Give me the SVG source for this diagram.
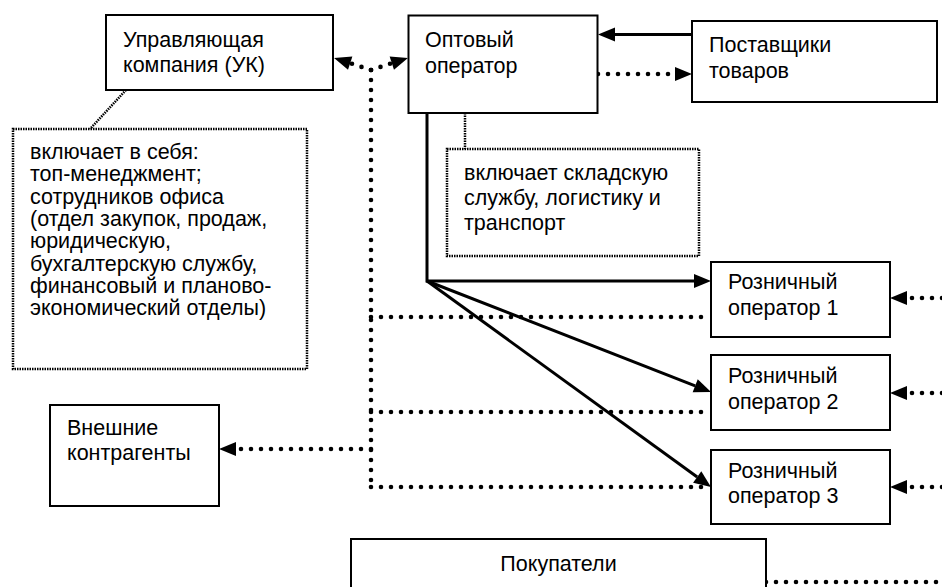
<svg xmlns="http://www.w3.org/2000/svg" width="942" height="587" viewBox="0 0 942 587">
<style>
.box{fill:#fff;stroke:#000;stroke-width:2}
.note{fill:#fff;stroke:#000;stroke-width:2.5;stroke-dasharray:1.5 1}
.solid{fill:none;stroke:#000;stroke-width:3}
.dot{fill:none;stroke:#000;stroke-width:4.6;stroke-linecap:round;stroke-dasharray:0 10}
.thin{fill:none;stroke:#000;stroke-width:2.5;stroke-dasharray:1.5 1}
text{font-family:"Liberation Sans",Arial,sans-serif;font-size:21.5px;fill:#000}
.head{fill:#000;stroke:none}
</style>
<defs>
<marker id="ah" markerUnits="userSpaceOnUse" viewBox="0 -8 18 16" markerWidth="18" markerHeight="16" refX="0" refY="0" orient="auto" overflow="visible">
<path class="head" d="M0,-7 L17,0 L0,7 z"/>
</marker>
</defs>
<rect width="942" height="587" fill="#fff"/>

<g id="connectors">
<path class="thin" d="M126,90 L90,129"/>
<path class="thin" d="M465,113 V149"/>
<path class="solid" d="M692,34.5 H615" marker-end="url(#ah)"/>
<path class="solid" d="M427,113 V281 H694" marker-end="url(#ah)"/>
<path class="solid" d="M427,281 L695.2,385.8" marker-end="url(#ah)"/>
<path class="solid" d="M427,281 L697.2,477" marker-end="url(#ah)"/>
<path class="dot" d="M598,74 H675" marker-end="url(#ah)"/>
<path class="dot" d="M371,70 V487"/>
<path class="dot" d="M371,70 L350.2,63.2" marker-end="url(#ah)"/>
<path class="dot" d="M371,70 L391.8,63.2" marker-end="url(#ah)"/>
<path class="dot" d="M371,317 H711"/>
<path class="dot" d="M371,412 H711"/>
<path class="dot" d="M371,487 H711"/>
<path class="dot" d="M371,449 H236" marker-end="url(#ah)"/>
<path class="dot" d="M942,298 H907" marker-end="url(#ah)"/>
<path class="dot" d="M942,393 H907" marker-end="url(#ah)"/>
<path class="dot" d="M942,487 H907" marker-end="url(#ah)"/>
<path class="dot" d="M766,582 H942"/>
</g>

<g id="uk">
<rect class="box" x="106" y="15" width="227" height="75"/>
<text x="123" y="47">Управляющая</text>
<text x="123" y="72">компания (УК)</text>
</g>

<g id="uk-note">
<rect class="note" x="13" y="129" width="294" height="240"/>
<text x="30" y="159">включает в себя:</text>
<text x="30" y="181">топ-менеджмент;</text>
<text x="30" y="204">сотрудников офиса</text>
<text x="30" y="226">(отдел закупок, продаж,</text>
<text x="30" y="248">юридическую,</text>
<text x="30" y="271">бухгалтерскую службу,</text>
<text x="30" y="293">финансовый и планово-</text>
<text x="30" y="315">экономический отделы)</text>
</g>

<g id="wholesale">
<rect class="box" x="408.5" y="15.5" width="189" height="97.5"/>
<text x="425" y="47">Оптовый</text>
<text x="425" y="73">оператор</text>
</g>

<g id="wholesale-note">
<rect class="note" x="447" y="149" width="252" height="107"/>
<text x="464" y="180">включает складскую</text>
<text x="464" y="205">службу, логистику и</text>
<text x="464" y="230">транспорт</text>
</g>

<g id="suppliers">
<rect class="box" x="692" y="21" width="245" height="81"/>
<text x="709" y="52">Поставщики</text>
<text x="709" y="78">товаров</text>
</g>

<g id="retail1">
<rect class="box" x="711" y="262" width="179" height="75"/>
<text x="728" y="289">Розничный</text>
<text x="728" y="315">оператор 1</text>
</g>

<g id="retail2">
<rect class="box" x="711" y="355" width="179" height="75"/>
<text x="728" y="383">Розничный</text>
<text x="728" y="409">оператор 2</text>
</g>

<g id="retail3">
<rect class="box" x="711" y="450" width="179" height="74"/>
<text x="728" y="478">Розничный</text>
<text x="728" y="503">оператор 3</text>
</g>

<g id="external">
<rect class="box" x="50" y="405" width="169" height="101"/>
<text x="67" y="435">Внешние</text>
<text x="67" y="460">контрагенты</text>
</g>

<g id="buyers">
<rect class="box" x="351" y="539" width="415" height="60"/>
<text x="558.5" y="571" text-anchor="middle">Покупатели</text>
</g>
</svg>
